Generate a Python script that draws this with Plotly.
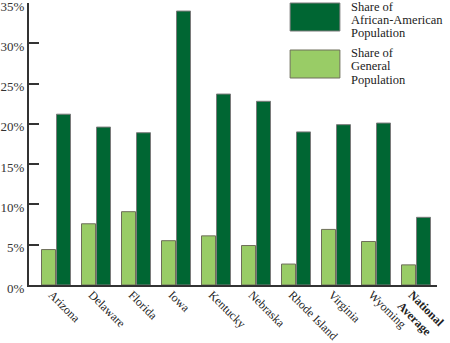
import plotly.graph_objects as go

categories = ["Arizona", "Delaware", "Florida", "Iowa", "Kentucky", "Nebraska",
              "Rhode Island", "Virginia", "Wyoming", "<b>National<br>Average</b>"]
general_share = [4.4, 7.6, 9.1, 5.5, 6.1, 4.9, 2.6, 6.9, 5.4, 2.5]
african_american_share = [21.2, 19.6, 18.9, 34.0, 23.7, 22.8, 19.0, 19.9, 20.1, 8.4]
y_ticks = [0, 5, 10, 15, 20, 25, 30, 35]
legend_dark_lines = ["Share of", "African-American", "Population"]
legend_light_lines = ["Share of", "General", "Population"]

DARK = "#006633"
LIGHT = "#99CC66"
FONT = "Liberation Serif"

x_idx = list(range(len(categories)))

fig = go.Figure()
fig.add_trace(go.Bar(x=x_idx, y=general_share, name="Share of General Population",
                     marker=dict(color=LIGHT, line=dict(color="#6e6e5a", width=1)),
                     showlegend=False))
fig.add_trace(go.Bar(x=x_idx, y=african_american_share, name="Share of African-American Population",
                     marker=dict(color=DARK, line=dict(color="#7a7a7a", width=1)),
                     showlegend=False))

PLOT_TOP, PLOT_H = 3, 282


def py(p):
    return (PLOT_TOP + PLOT_H - p) / PLOT_H


fig.update_layout(
    width=450, height=343,
    margin=dict(l=29, r=13, t=3, b=58, autoexpand=False),
    paper_bgcolor="white", plot_bgcolor="white",
    barmode="group", bargap=0.25, bargroupgap=0.067,
    font=dict(family=FONT, size=12, color="#222"),
    xaxis=dict(range=[-0.675, 9.525], tickmode="array", tickvals=x_idx, ticktext=categories,
               tickangle=45, showgrid=False, zeroline=False, showline=True, automargin=False,
               linecolor="#333", linewidth=2, ticks="", ticklabeloverflow="allow",
               ticklabelshift=-4, ticklabelstandoff=-4,
               tickfont=dict(family=FONT, size=12, color="#222")),
    yaxis=dict(range=[0, 35], tickmode="array", tickvals=y_ticks, automargin=False,
               ticktext=[f"{v}%" for v in y_ticks], showgrid=False, zeroline=False,
               showline=True, linecolor="#333", linewidth=2, ticks="inside", ticklen=10,
               tickcolor="#333", tickwidth=2, ticklabeloverflow="allow", ticklabelshift=3,
               tickfont=dict(family=FONT, size=13, color="#333")),
)

# Legend drawn manually with large swatches
fig.add_shape(type="rect", xref="paper", yref="paper", x0=0.640, x1=0.762, y0=py(31), y1=py(3),
              fillcolor=DARK, line=dict(color="#7a7a7a", width=1))
fig.add_shape(type="rect", xref="paper", yref="paper", x0=0.640, x1=0.762, y0=py(78), y1=py(50),
              fillcolor=LIGHT, line=dict(color="#6e6e5a", width=1))
for lines, y0 in ((legend_dark_lines, 6.5), (legend_light_lines, 53.0)):
    for i, t in enumerate(lines):
        fig.add_annotation(xref="paper", yref="paper", x=(349 - 29) / 408, y=py(y0 + 13.3 * i),
                           xanchor="left", yanchor="middle", text=t, showarrow=False,
                           font=dict(family=FONT, size=12.5, color="#222"))

fig.write_html("out.html")
